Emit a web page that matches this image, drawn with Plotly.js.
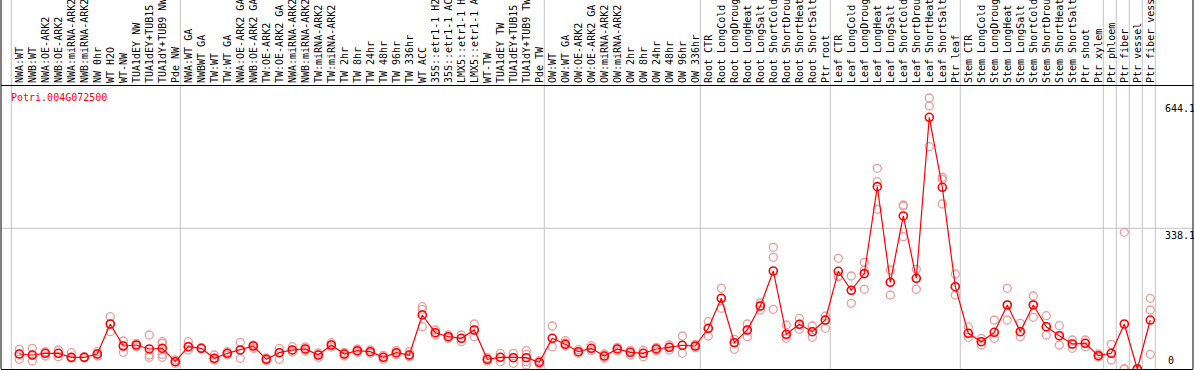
<!DOCTYPE html>
<html>
<head>
<meta charset="utf-8">
<script src="https://cdn.plot.ly/plotly-3.0.1.min.js"></script>
<style>html,body{margin:0;padding:0;background:#fff;}#chart{width:1194px;height:370px;}</style>
</head>
<body>
<div id="chart"></div>
<script>
const geneName = "Potri.004G072500";

// sample labels as they are shown in the header strip (long names are cut to the strip height)
const samples = ["NWA:WT","NWB:WT","NWA:OE-ARK2","NWB:OE-ARK2","NWA:miRNA-ARK2","NWB:miRNA-ARK2","NW 0hr","WT H2O","WT-NW","TUA1dEY NW","TUA1dEY+TUB15","TUA1dY+TUB9 NW","Pde NW",
"NWA:WT GA","NWBWT GA","TW:WT","TW:WT GA","NWA:OE-ARK2 GA","NWB:OE-ARK2 GA","TW:OE-ARK2","TW:OE-ARK2 GA","NWA:miRNA-ARK2","NWB:miRNA-ARK2","TW:miRNA-ARK2","TW:miRNA-ARK2","TW 2hr","TW 8hr","TW 24hr","TW 48hr","TW 96hr","TW 336hr","WT ACC","35S::etr1-1 H2","35S::etr1-1 AC","LMX5::etr1-1 H","LMX5::etr1-1 A","WT-TW","TUA1dEY TW","TUA1dEY+TUB15","TUA1dY+TUB9 TW","Pde TW",
"OW:WT","OW:WT GA","OW:OE-ARK2","OW:OE-ARK2 GA","OW:miRNA-ARK2","OW:miRNA-ARK2","OW 2hr","OW 8hr","OW 24hr","OW 48hr","OW 96hr","OW 336hr",
"Root CTR","Root LongCold","Root LongDroug","Root LongHeat","Root LongSalt","Root ShortCold","Root ShortDrou","Root ShortHeat","Root ShortSalt","Ptr root",
"Leaf CTR","Leaf LongCold","Leaf LongDroug","Leaf LongHeat","Leaf LongSalt","Leaf ShortCold","Leaf ShortDrou","Leaf ShortHeat","Leaf ShortSalt","Ptr leaf",
"Stem CTR","Stem LongCold","Stem LongDroug","Stem LongHeat","Stem LongSalt","Stem ShortCold","Stem ShortDrou","Stem ShortHeat","Stem ShortSalt","Ptr shoot","Ptr xylem",
"Ptr phloem","Ptr fiber","Ptr vessel","Ptr fiber vess"];

// index of the last sample in each group (vertical separators)
const groupEnds = [-1, 12, 40, 52, 62, 72, 83, 84, 85, 86, 87];

const meanValues = [36.0,33.6,37.7,37.7,28.1,28.1,36.0,108.1,55.3,57.7,48.1,49.7,17.5,
53.6,49.7,25.7,37.7,45.7,55.3,23.3,39.2,45.7,48.1,33.6,57.7,36.0,44.0,41.6,28.1,39.2,33.6,129.8,87.2,77.6,73.8,93.7,23.3,28.1,27.2,27.2,16.1,
73.8,59.4,41.6,49.7,31.2,48.1,40.1,37.7,48.1,52.1,57.0,55.3,
97.8,169.9,63.2,93.7,151.4,235.5,83.4,107.4,89.6,117.7,
234.8,189.1,229.2,438.1,208.3,367.7,217.9,604.8,436.6,197.8,
85.8,65.6,88.2,153.8,89.6,153.8,101.6,80.0,60.1,61.8,32.0,
37.7,108.1,0,117.7];

const rep1 = [47.3,49.7,41.6,45.7,39.2,29.6,41.6,125.7,67.3,61.8,81.7,65.6,21.6,
65.6,51.0,33.6,41.6,64.2,57.7,26.4,49.7,53.6,52.9,38.4,63.2,40.1,48.1,45.7,32.9,44.0,41.6,149.7,93.7,81.7,81.7,108.1,27.2,37.7,37.7,44.0,19.9,
103.3,68.0,46.4,56.0,36.0,52.1,44.9,44.9,52.1,57.7,79.3,59.4,
113.7,193.9,71.4,108.1,158.6,292.4,105.7,121.8,103.3,127.4,
266.0,223.5,256.4,482.3,237.9,394.1,239.6,651.2,460.7,228.3,
101.0,73.8,117.7,193.9,109.8,175.4,128.1,104.0,69.7,69.7,36.0,
59.4,328.5,0,169.9];

const rep2 = [36.0,33.6,37.7,37.7,28.1,28.1,36.0,108.1,55.3,57.7,33.6,61.8,17.5,
53.6,49.7,25.7,37.7,45.7,55.3,23.3,39.2,45.7,48.1,33.6,57.7,36.0,44.0,41.6,28.1,39.2,33.6,143.5,87.2,77.6,73.8,93.7,23.3,28.1,27.2,35.3,16.1,
73.8,62.5,41.6,49.7,31.2,48.1,40.1,37.7,48.1,52.1,57.0,55.3,
97.8,169.9,63.2,93.7,151.4,268.4,83.4,107.4,89.6,117.7,
223.5,189.1,237.9,450.1,208.3,391.7,217.9,632.0,455.8,197.8,
85.8,65.6,88.2,153.8,89.6,153.8,101.6,80.0,60.1,61.8,32.0,
37.7,0,0,141.8];

const rep3 = [23.3,19.2,31.2,29.6,26.0,26.4,31.2,89.6,40.1,53.6,28.1,35.0,13.7,
45.7,48.0,21.6,33.6,25.7,49.7,19.2,23.3,40.9,43.3,28.1,52.9,31.2,40.1,37.7,23.3,34.4,29.6,101.6,81.7,73.8,65.6,77.6,19.2,17.5,13.7,17.5,12.0,
53.6,55.3,37.7,44.0,25.7,43.3,33.6,29.6,43.3,45.7,37.7,51.2,
79.3,145.9,47.3,77.6,141.8,143.5,73.8,95.4,76.2,97.8,
221.8,157.9,191.5,383.8,177.8,317.9,191.5,534.2,396.5,177.8,
76.2,57.7,73.8,117.7,77.6,124.2,81.7,57.7,49.7,53.6,28.8,
21.6,0,0,35.3];

const rep4 = [null,null,null,null,null,null,null,null,null,null,null,28.1,null,
null,null,null,null,null,null,null,null,null,null,null,null,null,null,null,null,null,null,null,null,null,null,null,null,null,null,9.6,null,
null,null,null,null,null,null,null,null,null,null,null,null,
null,null,null,null,null,null,null,null,null,null,
null,null,null,null,null,null,null,null,null,null,
null,null,null,null,null,null,null,null,null,null,null,
null,null,null,null];

const axisLabels = [644.1, 338.1, 0];

// ---- build traces ----
const idx = samples.map((_, i) => i);
const rx = [], ry = [];
[rep1, rep2, rep3, rep4].forEach(r => {
  r.forEach((v, i) => { if (v !== null) { rx.push(i); ry.push(v); } });
});

const W = 1194, H = 370;
const mL = 1, mR = 1, mT = 86, mB = 1;
const plotW = W - mL - mR, plotH = H - mT - mB;
const px0 = 19.3, pxStep = 13;           // pixel of sample 0 and spacing
const xMin = (mL - px0) / pxStep;
const xMax = (W - mR - px0) / pxStep;
const yMax = 680;

const font = "DejaVu Sans Mono, Liberation Mono, monospace";

const traces = [
  {x: rx, y: ry, type: 'scatter', mode: 'markers', hoverinfo: 'skip',
   marker: {symbol: 'circle-open', size: 8, color: '#ec9c9c', line: {width: 1.3, color: '#ec9c9c'}}},
  {x: idx, y: meanValues, type: 'scatter', mode: 'lines+markers',
   line: {color: '#ff0000', width: 1.2},
   marker: {symbol: 'circle-open', size: 8, color: '#ff0000', line: {width: 1.6, color: '#ff0000'}}}
];

const topExt = 1 + (mT + 2) / plotH;
const shapes = [];
groupEnds.forEach(g => {
  shapes.push({type: 'line', xref: 'x', yref: 'paper', x0: g + 5 / 13, x1: g + 5 / 13, y0: 0, y1: topExt,
               line: {color: '#c4c4c4', width: 1}, layer: 'below'});
});
shapes.push({type: 'line', xref: 'paper', yref: 'y', x0: 0, x1: 1, y0: 338.1, y1: 338.1,
             line: {color: '#c4c4c4', width: 1}, layer: 'below'});
shapes.push({type: 'line', xref: 'paper', yref: 'paper', x0: 0, x1: 0, y0: 0, y1: topExt, line: {color: '#000', width: 1}});
shapes.push({type: 'line', xref: 'paper', yref: 'paper', x0: 1, x1: 1, y0: 0, y1: topExt, line: {color: '#000', width: 1}});

const labX = (1163 - mL) / plotW;
const annotations = [
  {text: geneName, xref: 'paper', yref: 'paper', x: (9 - mL) / plotW, y: (H - mB - 97) / plotH,
   xanchor: 'left', yanchor: 'middle', showarrow: false, font: {family: font, size: 10, color: '#ff0000'}},
  {text: String(axisLabels[0]), xref: 'paper', yref: 'y', x: labX, y: axisLabels[0], xanchor: 'left', yanchor: 'top',
   showarrow: false, font: {family: font, size: 10, color: '#000'}},
  {text: String(axisLabels[1]), xref: 'paper', yref: 'y', x: labX, y: axisLabels[1], xanchor: 'left', yanchor: 'top',
   showarrow: false, font: {family: font, size: 10, color: '#000'}},
  {text: String(axisLabels[2]), xref: 'paper', yref: 'y', x: (1166 - mL) / plotW, y: axisLabels[2], xanchor: 'left', yanchor: 'bottom',
   yshift: 1, showarrow: false, font: {family: font, size: 10, color: '#000'}}
];

const layout = {
  width: W, height: H,
  margin: {l: mL, r: mR, t: mT, b: mB, pad: 0},
  paper_bgcolor: '#fff', plot_bgcolor: '#fff',
  showlegend: false,
  xaxis: {range: [xMin, xMax], side: 'top', tickmode: 'array', tickvals: idx, ticktext: samples,
          tickangle: -90, ticks: '', ticklen: 0, showgrid: false, zeroline: false,
          showline: true, mirror: true, linecolor: '#000', linewidth: 1,
          tickfont: {family: font, size: 10, color: '#000'}, automargin: false, fixedrange: true},
  yaxis: {range: [0, yMax], showticklabels: false, ticks: '', showgrid: false, zeroline: false,
          showline: false, automargin: false, fixedrange: true},
  shapes: shapes,
  annotations: annotations
};

Plotly.newPlot('chart', traces, layout, {displayModeBar: false, staticPlot: true});
</script>
</body>
</html>
